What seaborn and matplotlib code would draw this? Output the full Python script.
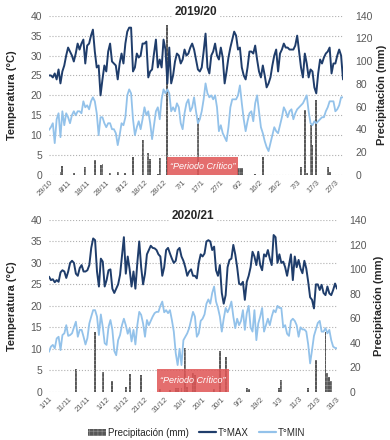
import numpy as np
import pandas as pd
import matplotlib
matplotlib.use('Agg')
from matplotlib import pyplot as plt
from matplotlib.patches import Rectangle, Patch
from matplotlib.lines import Line2D
import seaborn as sns

# ---- 2019/20 : daily values from 29/10 to 31/3 ----
tmax_1920 = [25, 25, 24.5, 25.5, 24, 26.5, 23, 26, 27.5, 30,
             32, 31, 30, 28.5, 30.5, 33, 31.5, 33, 34, 28,
             32.5, 33, 35, 36.5, 31, 27, 27.5, 20, 24, 27.5,
             26, 31, 33, 28.5, 28, 27.5, 24, 28, 30.5, 28,
             33, 36, 37, 37, 26, 27, 30.5, 29.5, 30, 33,
             33, 33.5, 24.5, 26, 26.5, 30.5, 34, 27, 29, 27,
             34, 31.5, 23, 32, 23, 25, 28.5, 30.5, 30, 28,
             29, 31.5, 30, 30.5, 32, 33, 31.5, 29, 26.5, 26,
             27, 31, 35.5, 27, 25.5, 30, 31, 33, 30, 29,
             32, 29.5, 23, 26, 29.5, 32, 34, 36, 35, 31.5,
             32, 27, 25, 24, 27, 31, 31, 30.5, 32.5, 29,
             26, 24.5, 27.5, 25, 22, 23, 24.5, 27.5, 30, 31.5,
             26, 30.5, 31.5, 33, 32, 32, 31.5, 31.5, 31.5, 32.5,
             35, 31, 27, 24.5, 30.5, 28, 24.5, 26.5, 26, 22,
             20.5, 25.5, 29, 28, 29.5, 30.5, 31, 32, 25.5, 28,
             28, 30, 31.5, 30, 24]
tmin_1920 = [11.3, 12, 13, 8, 14, 15.5, 9.5, 16, 12.5, 15.5,
             14.5, 13, 15, 16, 15, 16, 16, 15.5, 18.5, 17,
             17.5, 16.5, 18.5, 19.5, 18.5, 15.5, 10, 14.5, 14.5, 13,
             12, 13, 13, 11.5, 11.5, 10.5, 7.5, 10, 13, 12.5,
             14.5, 20, 21.5, 20.5, 14, 10, 12, 13.5, 11.5, 14,
             17, 15, 16, 13, 9, 12.5, 16, 17, 14, 19,
             21.5, 20.5, 21.5, 20.5, 16, 17, 16, 18, 17, 13,
             11.5, 15.5, 18, 19, 16, 17, 19.5, 16, 13, 14,
             16, 19, 23, 20.5, 19.5, 20, 19, 20, 17, 11,
             12.5, 10.5, 9.5, 8.5, 12, 17, 19, 19, 19, 20,
             22.5, 18, 14, 11, 13.5, 15.5, 16, 13.5, 18, 20,
             16, 12, 10.5, 8.5, 7, 6, 8, 10, 12, 11,
             10.5, 12.5, 14.5, 17, 16, 14.5, 16, 16.5, 14, 15.5,
             16.5, 17, 17.5, 18, 19, 20, 16, 13, 12.5, 13.5,
             13, 13.5, 14, 14.5, 14.5, 16, 17, 18.5, 18.5, 18.5,
             16, 16.5, 17.5, 19.5, 19.5]
rain_day_1920 = [6, 7, 13, 19, 24, 27, 28, 32, 36, 40, 44, 49, 52, 53, 57, 58,
                 62, 78, 99, 100, 101, 108, 112, 132, 134, 135, 137, 138, 140, 146, 147]
rain_mm_1920 = [3, 8, 1.5, 7, 13, 9, 9.5, 2, 3, 1.5, 16, 31, 19, 14, 1, 15,
                132, 50, 6, 6, 6, 1, 16, 7, 57, 2, 44, 26, 66, 7, 3]
ticks_1920 = ['29/10', '8/11', '18/11', '28/11', '8/12', '18/12', '28/12', '7/1',
              '17/1', '27/1', '6/2', '16/2', '26/2', '7/3', '17/3', '27/3']
crit_1920 = (62, 99)

# ---- 2020/21 : daily values from 1/11 to 31/3 ----
tmax_2021 = [26.8, 26, 26.2, 25.5, 26, 25.6, 27.8, 28.3, 28, 26.5,
             28, 30, 30.5, 30, 27.5, 27, 28.8, 29.5, 28, 28,
             28.3, 29.5, 33.5, 35.7, 35.3, 28, 24.5, 31, 30.3, 24.5,
             26, 28.3, 28.5, 24, 23, 24, 25, 27.2, 31.5, 36,
             27.5, 31.5, 28.5, 24.5, 28, 24, 30, 35, 29, 25,
             27.5, 32, 33, 34, 33.5, 33.4, 33, 32, 31.5, 27,
             29, 33, 33.5, 32.2, 31, 30, 30.5, 33, 33.5, 31.5,
             30.5, 29, 27, 28, 28.5, 27, 27, 26.4, 30, 32,
             31.5, 32.2, 35, 35.3, 35, 33, 33.8, 28.3, 27, 29.5,
             23, 20.5, 22.5, 29, 30.7, 31, 34.2, 32, 29, 25.2,
             24.9, 25.6, 21.4, 25.6, 27, 29, 32.6, 31.5, 29.5, 32.6,
             29.5, 28.3, 32, 31.5, 33, 31, 29.5, 36.5, 36, 30,
             32, 30, 30.3, 29, 27, 29.5, 32, 26, 31.5, 29,
             30.7, 28.7, 27.6, 30.5, 28.7, 25.6, 22, 21.4, 19.4, 25,
             25, 23.7, 24.9, 23, 22.5, 24.5, 22.9, 22.5, 23.7, 25.2,
             24]
tmin_2021 = [9.3, 10.5, 10.9, 10.1, 12.4, 12.8, 9.7, 13.2, 13.6, 15.5,
             13, 13.2, 13.6, 15, 16.3, 12.8, 14.4, 14.4, 12.8, 11,
             12.5, 15.9, 17.5, 19, 19, 17.5, 13.2, 18, 15.1, 11.3,
             10.9, 15.1, 16.7, 14.4, 9.5, 8.5, 12, 13.2, 15.5, 17,
             15.5, 13.5, 14.8, 11.7, 14.4, 11, 15.5, 18.6, 17.9, 15.9,
             12.8, 16.7, 15.5, 16.5, 17.5, 18.3, 18.6, 18.6, 20, 21,
             18.5, 19, 18.3, 19, 16.7, 14, 9, 6.2, 10, 6.2,
             12, 12.8, 13.6, 14.8, 16.7, 18.6, 17.5, 12.8, 13.6, 16.5,
             17, 18, 20.5, 21.5, 20.5, 23, 24.5, 21, 19.5, 17.5,
             14, 17, 19.5, 18.5, 19.5, 21, 17.5, 14.8, 17, 15.5,
             16.5, 19, 14.4, 18.3, 20, 15, 14, 19, 12, 15.9,
             17.5, 19.5, 14, 15.5, 17, 15.5, 17.5, 19, 18.5, 20,
             19.5, 19.5, 15, 15.5, 13.5, 13, 16.5, 17, 16.5, 15.5,
             12.8, 15, 14.5, 14.5, 14, 11, 6.6, 9.7, 13, 14.5,
             16, 16.5, 14, 14, 14.8, 13.6, 14.4, 12, 10.5, 10.2,
             10.1]
rain_day_2021 = [14, 24, 28, 33, 40, 42, 48, 58, 63, 66, 67, 69, 71, 72, 75,
                 76, 86, 89, 92, 103, 104, 120, 121, 135, 139, 144, 145, 146, 147]
rain_mm_2021 = [18.5, 49, 16, 8.5, 3.5, 14.5, 13.5, 2, 1.5, 3, 3, 3, 36, 4, 15,
                14, 2.5, 33, 28, 3, 2, 3, 9.5, 3, 26, 49, 15, 12, 9]
ticks_2021 = ['1/11', '11/11', '21/11', '1/12', '11/12', '21/12', '31/12', '10/1',
              '20/1', '30/1', '9/2', '19/2', '1/3', '11/3', '21/3', '31/3']
crit_2021 = (56, 94)

assert len(tmax_1920) == len(tmin_1920) == 155
assert len(tmax_2021) == len(tmin_2021) == 151

C_MAX = '#1f3d6b'
C_MIN = '#93c2ea'
C_BAR = '#575757'
C_HATCH = '#8c8c8c'
C_TXT = '#595959'

sns.set_style('white')
plt.rcParams['font.family'] = ['Liberation Sans', 'DejaVu Sans']
plt.rcParams['hatch.linewidth'] = 0.5


def panel(ax, tmax, tmin, rain_day, rain_mm, ticks, crit, box_h, title, rlab_x):
    n = len(tmax)
    df = pd.DataFrame({'dia': np.arange(n), 'tmax': tmax, 'tmin': tmin})
    ax2 = ax.twinx()
    ax.set_zorder(ax2.get_zorder() + 1)
    ax.patch.set_visible(False)

    # precipitation bars (right axis)
    ax2.bar(rain_day, rain_mm, width=1.0, color=C_BAR, edgecolor=C_HATCH,
            hatch='++++', linewidth=0)
    ax2.set_ylim(0, 140)
    ax2.set_yticks(range(0, 141, 20))
    ax2.tick_params(axis='y', length=0, pad=9, labelsize=7.5, labelcolor=C_TXT)
    ax2.set_ylabel('Precipitación (mm)', fontsize=8, fontweight='bold')
    ax2.yaxis.set_label_coords(rlab_x, 0.5)

    # critical period box
    ax.add_patch(Rectangle((crit[0], 0), crit[1] - crit[0], box_h,
                           facecolor='#e05555', alpha=0.85, edgecolor='none', zorder=1))
    ax.text((crit[0] + crit[1]) / 2, box_h / 2, '\u201cPeriodo Crítico\u201d',
            color='white', style='italic', fontsize=6.5, ha='center', va='center', zorder=2)

    sns.lineplot(data=df, x='dia', y='tmin', ax=ax, color=C_MIN, linewidth=1.3, zorder=3)
    sns.lineplot(data=df, x='dia', y='tmax', ax=ax, color=C_MAX, linewidth=1.4, zorder=4)

    ax.set_xlim(0, n - 1)
    ax.set_ylim(0, 40)
    ax.set_yticks(range(0, 41, 5))
    ax.set_xticks(range(0, n, 10))
    ax.set_xticklabels(ticks, rotation=45, ha='right', rotation_mode='anchor')
    ax.tick_params(axis='x', length=0, pad=3, labelsize=5.5, labelcolor=C_TXT)
    ax.tick_params(axis='y', length=0, pad=5, labelsize=7.5, labelcolor=C_TXT)
    ax.set_xlabel('')
    ax.set_ylabel('Temperatura (°C)', fontsize=8, fontweight='bold')
    ax.yaxis.set_label_coords(-0.11, 0.5)
    ax.grid(axis='y', linestyle=':', color='#b0b0b0', linewidth=0.8)
    ax.grid(axis='x', visible=False)
    ax.set_axisbelow(True)
    for a in (ax, ax2):
        for s in a.spines.values():
            s.set_visible(False)

    ax.text((n - 1) / 2, 40.9, title, ha='center', va='center', fontsize=8.5,
            fontweight='bold', zorder=5, clip_on=False,
            bbox=dict(facecolor='white', edgecolor='none', pad=1.5))


fig = plt.figure(figsize=(3.9, 4.4), dpi=100)
ax_a = fig.add_axes([49 / 390, 1 - 175 / 440, 294 / 390, 159.3 / 440])
ax_b = fig.add_axes([49 / 390, 1 - 391.7 / 440, 288 / 390, 171.7 / 440])

panel(ax_a, tmax_1920, tmin_1920, rain_day_1920, rain_mm_1920, ticks_1920,
      crit_1920, 4.5, '2019/20', 1.115)
panel(ax_b, tmax_2021, tmin_2021, rain_day_2021, rain_mm_2021, ticks_2021,
      crit_2021, 5.3, '2020/21', 1.13)

handles = [Patch(facecolor=C_BAR, edgecolor=C_HATCH, hatch='++++', linewidth=0),
           Line2D([], [], color=C_MAX, linewidth=1.6),
           Line2D([], [], color=C_MIN, linewidth=1.6)]
fig.legend(handles, ['Precipitación (mm)', 'T°MAX', 'T°MIN'], loc='lower center',
           bbox_to_anchor=(0.505, -0.015), ncol=3, frameon=False, fontsize=7,
           handlelength=1.8, handletextpad=0.2, columnspacing=1.0)

fig.savefig('out.png', dpi=100)
